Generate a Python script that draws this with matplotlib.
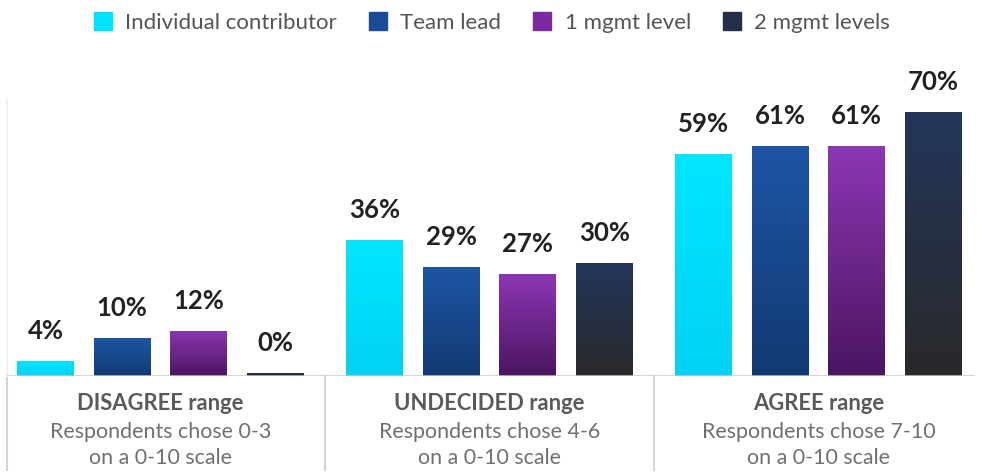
import matplotlib.pyplot as plt
import matplotlib.transforms as mtransforms
import numpy as np
from matplotlib.colors import LinearSegmentedColormap
from matplotlib.lines import Line2D

plt.rcParams['font.family'] = ['Lato', 'DejaVu Sans']

# data
ranges = ['DISAGREE range', 'UNDECIDED range', 'AGREE range']
range_notes = ['Respondents chose 0-3\non a 0-10 scale',
               'Respondents chose 4-6\non a 0-10 scale',
               'Respondents chose 7-10\non a 0-10 scale']
roles = ['Individual contributor', 'Team lead', '1 mgmt level', '2 mgmt levels']
individual = [4, 36, 59]
team_lead = [10, 29, 61]
one_level = [12, 27, 61]
two_levels = [0, 30, 70]
series = [individual, team_lead, one_level, two_levels]

# gradient (top, bottom) per role
grads = [('#00e6ff', '#00d2f4'),
         ('#1d55a5', '#123a72'),
         ('#8b36b2', '#4c1562'),
         ('#23365a', '#29292b')]
legend_cols = ['#00e0ff', '#1a4c98', '#7a2aa0', '#24304a']

W, H = 988, 476
fig = plt.figure(figsize=(W / 100, H / 100), dpi=100)
ax = fig.add_axes([7 / W, (H - 376) / H, (975 - 7) / W, 276 / H])

x = np.arange(len(ranges))
bw = 0.173
step = 0.2325
ymax = 73.2

for i, vals in enumerate(series):
    xs = x + (i - 1.5) * step
    shown = [max(v, 0.9) for v in vals]
    bars = ax.bar(xs, shown, width=bw, color=grads[i][0], edgecolor='none', zorder=2)
    cmap = LinearSegmentedColormap.from_list('g%d' % i, [grads[i][1], grads[i][0]])
    for b, v in zip(bars, vals):
        x0, y0 = b.get_x(), b.get_y()
        img = ax.imshow(np.linspace(0, 1, 64).reshape(-1, 1), cmap=cmap, origin='lower',
                        extent=[x0, x0 + b.get_width(), y0, y0 + b.get_height()],
                        aspect='auto', zorder=3)
        img.set_clip_path(b)
        ax.annotate(f'{v}%', (b.get_x() + b.get_width() / 2, b.get_height()),
                    xytext=(0, 30), textcoords='offset pixels', ha='center', va='center',
                    fontsize=18.5, fontweight='bold', color='#222222')

ax.set_xlim(-0.4666, 2.4757)
ax.set_ylim(0, ymax)
for s in ['top', 'right', 'bottom']:
    ax.spines[s].set_visible(False)
ax.spines['left'].set_color('#f0f0f0')
ax.spines['left'].set_linewidth(1.5)
ax.set_xticks([])
ax.set_yticks([])
ax.axhline(0, color='#c8c8c8', lw=1.8, zorder=4)

# separators below the baseline
for sx in [-0.4666, 0.5, 1.5]:
    ax.plot([sx, sx], [0, -0.34], transform=ax.get_xaxis_transform(), color='#d4d4d4',
            lw=1.5, clip_on=False)

trans = mtransforms.blended_transform_factory(ax.transData, fig.transFigure)
for xi, name, note in zip(x, ranges, range_notes):
    fig.text(xi, 1 - 404 / H, name, transform=trans, ha='center', va='center',
             fontsize=15.8, fontweight='bold', color='#5a5a5a')
    fig.text(xi, 1 - 445 / H, note, transform=trans, ha='center', va='center',
             fontsize=15.4, color='#707070', linespacing=1.4)

handles = [Line2D([], [], marker='s', ls='none', markersize=13, color=c) for c in legend_cols]
fig.legend(handles, roles, loc='center', bbox_to_anchor=(491 / W, 1 - 23 / H), ncol=4,
           frameon=False, fontsize=16, labelcolor='#555555', handletextpad=0.5,
           columnspacing=1.35, handlelength=1.0)

fig.savefig('out.png', dpi=100)
